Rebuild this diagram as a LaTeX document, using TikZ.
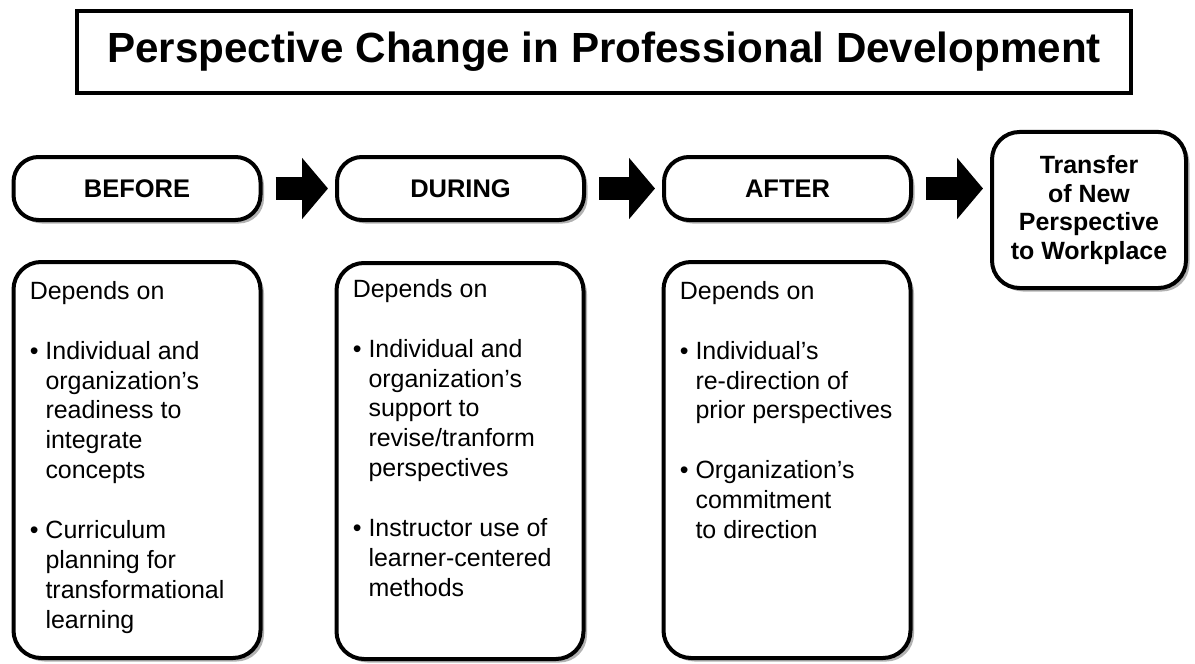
\documentclass[tikz,border=0pt]{standalone}
\usepackage{fontspec}
\setmainfont{Liberation Sans}
\usetikzlibrary{positioning, shadows, arrows.meta}
\newcommand{\bulind}{\hphantom{\textbullet\ }}

\begin{document}
\begin{tikzpicture}[
  titlebox/.style={rectangle, draw=black, line width=0.08cm, fill=white, minimum width=21.08cm, minimum height=1.64cm, text centered, font=\fontsize{24}{28}\selectfont\bfseries},
  stagebox/.style={rectangle, rounded corners=0.5cm, draw=black, line width=0.08cm, fill=white, minimum width=4.94cm, minimum height=1.26cm, text centered, font=\fontsize{14.5}{17}\selectfont\bfseries, drop shadow={shadow xshift=0.07cm, shadow yshift=-0.07cm, fill=black, opacity=0.3}},
  listbox/.style={rectangle, rounded corners=0.55cm, draw=black, line width=0.08cm, fill=white, minimum width=4.94cm, minimum height=7.92cm, drop shadow={shadow xshift=0.07cm, shadow yshift=-0.07cm, fill=black, opacity=0.3}},
  listtext/.style={align=left, inner sep=0pt, font=\fontsize{14.2}{17}\selectfont},
  blockarrow/.style={line width=0.46cm, -{Triangle[length=0.52cm, width=1.2cm]}, shorten <=0.26cm, shorten >=0.14cm}
]
\useasboundingbox (0,0) rectangle (23.9,-13.28);

% Title
\node[titlebox] (title) at (12.08,-1.04) {Perspective Change in Professional Development};

% Stages
\node[stagebox] (before) at (2.74,-3.77) {BEFORE};
\node[stagebox] (during) at (9.21,-3.77) {DURING};
\node[stagebox] (after) at (15.75,-3.77) {AFTER};
\node[stagebox, minimum width=3.88cm, minimum height=3.12cm, rounded corners=0.55cm, align=center, font=\fontsize{14.2}{16.2}\selectfont\bfseries] (transfer) at (21.78,-4.2) {Transfer\\of New\\Perspective\\to Workplace};

% Arrows between stages
\draw[blockarrow] (before.east) -- (during.west);
\draw[blockarrow] (during.east) -- (after.west);
\draw[blockarrow] (after.east) -- (after.east -| transfer.west);

% What each stage depends on
\node[listbox] (beforelist) at (2.74,-9.2) {};
\node[listbox] (duringlist) at (9.2,-9.22) {};
\node[listbox] (afterlist) at (15.74,-9.2) {};

\node[listtext, below right=0.42cm and 0.36cm of beforelist.north west] (beforetext) {Depends on\\[17pt]
\textbullet\ Individual and\\ \bulind organization's\\ \bulind readiness to\\ \bulind integrate\\ \bulind concepts\\[17pt]
\textbullet\ Curriculum\\ \bulind planning for\\ \bulind transformational\\ \bulind learning};
\node[listtext, below right=0.36cm and 0.36cm of duringlist.north west] (duringtext) {Depends on\\[17pt]
\textbullet\ Individual and\\ \bulind organization's\\ \bulind support to\\ \bulind revise/tranform\\ \bulind perspectives\\[17pt]
\textbullet\ Instructor use of\\ \bulind learner-centered\\ \bulind methods};
\node[listtext, below right=0.42cm and 0.36cm of afterlist.north west] (aftertext) {Depends on\\[17pt]
\textbullet\ Individual's\\ \bulind re-direction of\\ \bulind prior perspectives\\[17pt]
\textbullet\ Organization's\\ \bulind commitment\\ \bulind to direction};

\end{tikzpicture}
\end{document}
